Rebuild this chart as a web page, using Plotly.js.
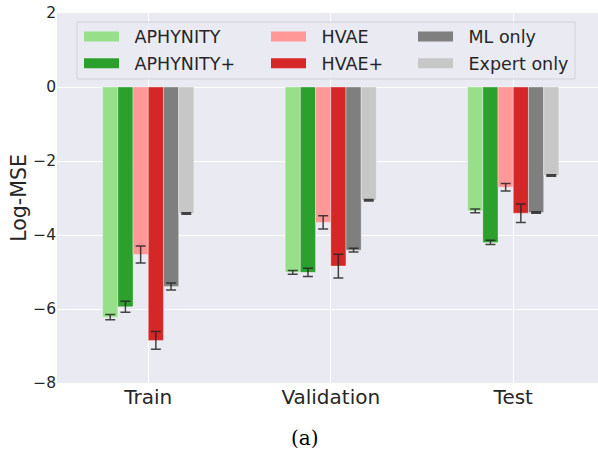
<!DOCTYPE html>
<html>
<head>
<meta charset="utf-8">
<script src="https://cdn.plot.ly/plotly-3.0.1.min.js"></script>
<style>html,body{margin:0;padding:0;background:#fff;}#chart{width:598px;height:450px;}</style>
</head>
<body>
<div id="chart"></div>
<script>
const categories = ['Train', 'Validation', 'Test'];
const seriesNames = ['APHYNITY', 'APHYNITY+', 'HVAE', 'HVAE+', 'ML only', 'Expert only'];
const aphynity = [-6.22, -5.01, -3.35];
const aphynityErr = [0.07, 0.05, 0.05];
const aphynityPlus = [-5.94, -5.01, -4.20];
const aphynityPlusErr = [0.15, 0.11, 0.055];
const hvae = [-4.53, -3.66, -2.71];
const hvaeErr = [0.23, 0.18, 0.10];
const hvaePlus = [-6.85, -4.84, -3.41];
const hvaePlusErr = [0.24, 0.32, 0.25];
const mlOnly = [-5.39, -4.41, -3.39];
const mlOnlyErr = [0.095, 0.05, 0.02];
const expertOnly = [-3.42, -3.06, -2.39];
const expertOnlyErr = [0.02, 0.02, 0.02];
const yTicks = [-8, -6, -4, -2, 0, 2];

const colors = ['#98df8a', '#2ca02c', '#ff9896', '#d62728', '#7f7f7f', '#c7c7c7'];
const values = [aphynity, aphynityPlus, hvae, hvaePlus, mlOnly, expertOnly];
const errors = [aphynityErr, aphynityPlusErr, hvaeErr, hvaePlusErr, mlOnlyErr, expertOnlyErr];

const W = 598, H = 450, L = 57, R = 0, T = 13, B = 67;
const pw = W - L - R, ph = H - T - B;
const px = v => (v - L) / pw;
const py = v => (H - B - v) / ph;

const data = [];
values.forEach((vals, i) => {
  data.push({
    type: 'bar', x: categories, y: vals, name: seriesNames[i], showlegend: false,
    marker: {color: colors[i], line: {color: 'rgba(255,255,255,0.45)', width: 0.8}},
    error_y: {type: 'data', array: errors[i], visible: true, color: 'rgba(38,38,38,0.85)', thickness: 1.5, width: 5}
  });
});
const legendNames = ['legend', 'legend2', 'legend3', 'legend4', 'legend5', 'legend6'];
seriesNames.forEach((n, i) => {
  data.push({
    type: 'scatter', mode: 'lines', x: [null], y: [null], name: '\u2002\u200a' + n,
    line: {color: colors[i], width: 11}, legend: legendNames[i], hoverinfo: 'skip'
  });
});

const colX = [79, 266, 413];
const rowY = [36.7, 63.3];
const layout = {
  width: W, height: H,
  margin: {l: L, r: R, t: T, b: B},
  paper_bgcolor: '#ffffff', plot_bgcolor: '#eaeaf2',
  font: {family: 'DejaVu Sans', color: '#262626'},
  barmode: 'group', bargap: 0.5, bargroupgap: 0,
  xaxis: {
    type: 'category', range: [-0.5, (W - R - L) / 182.5 - 0.5],
    showgrid: true, gridcolor: '#ffffff', gridwidth: 1, zeroline: false,
    showline: false, ticks: '', tickfont: {size: 20, color: '#262626'}
  },
  yaxis: {
    range: [-8, 2], tickvals: yTicks, showgrid: true, gridcolor: '#ffffff', gridwidth: 1,
    zeroline: false, showline: false, ticks: '', tickfont: {size: 15.5, color: '#262626'},
    title: {text: 'Log-MSE', font: {size: 20.5, color: '#262626'}, standoff: 0}
  },
  shapes: [{
    type: 'rect', xref: 'paper', yref: 'paper', layer: 'above',
    x0: px(77), x1: px(575), y0: py(79), y1: py(22),
    fillcolor: 'rgba(234,234,242,0.8)', line: {color: 'rgba(204,204,214,0.8)', width: 1}
  }],
  annotations: [{
    text: '(a)', xref: 'paper', yref: 'paper', x: px(305), y: py(438),
    xanchor: 'center', yanchor: 'middle', showarrow: false,
    font: {family: 'DejaVu Serif', size: 20, color: '#000000'}
  }]
};
legendNames.forEach((ln, i) => {
  const col = Math.floor(i / 2), row = i % 2;
  layout[ln] = {
    x: px(colX[col]), y: py(rowY[row]), xanchor: 'left', yanchor: 'middle',
    bgcolor: 'rgba(0,0,0,0)', borderwidth: 0, itemwidth: 35,
    font: {size: 17.5, color: '#262626', family: 'DejaVu Sans'}
  };
});

Plotly.newPlot('chart', data, layout, {displayModeBar: false, staticPlot: true});
</script>
</body>
</html>
